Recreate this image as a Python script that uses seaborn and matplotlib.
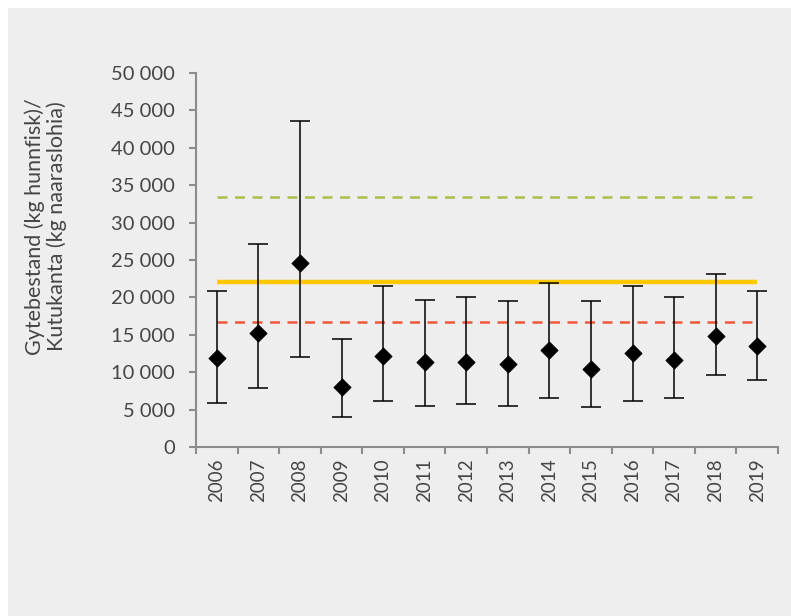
import numpy as np
import pandas as pd
import matplotlib
matplotlib.use("Agg")
import matplotlib.pyplot as plt
import matplotlib.patches as mpatches
from matplotlib.ticker import FuncFormatter
import seaborn as sns

# Data
years = ["2006", "2007", "2008", "2009", "2010", "2011", "2012",
         "2013", "2014", "2015", "2016", "2017", "2018", "2019"]
estimate = [11900, 15300, 24600, 8000, 12100, 11300, 11400,
            11100, 12900, 10400, 12500, 11600, 14900, 13500]
upper = [20900, 27200, 43600, 14400, 21500, 19700, 20100,
         19500, 21900, 19500, 21500, 20100, 23100, 20900]
lower = [5900, 7900, 12000, 4050, 6100, 5500, 5750,
         5500, 6500, 5300, 6100, 6500, 9600, 8950]
level_green = 33400
level_yellow = 22100
level_red = 16700

df = pd.DataFrame({"year": years, "estimate": estimate, "upper": upper, "lower": lower})
df["pos"] = np.arange(len(df))

sns.set_style("ticks")
plt.rcParams["font.family"] = ["Lato", "DejaVu Sans"]

bg = "#eeeeee"
txt = "#454545"
fig = plt.figure(figsize=(7.91, 6.16), dpi=100, facecolor="white")
fig.patches.append(mpatches.Rectangle((8 / 791, 0), 1, 1 - 8 / 616, transform=fig.transFigure,
                                      facecolor=bg, edgecolor="none", zorder=-10))
ax = fig.add_axes([0.2478, 0.2744, 0.7358, 0.6071])
ax.set_facecolor(bg)

# reference lines
ax.hlines(level_green, 0, len(years) - 1, color="#a8bf4a", linestyle=(0, (4, 3)), linewidth=1.8, zorder=1)
ax.hlines(level_yellow, 0, len(years) - 1, color="#ffc800", linewidth=3.2, zorder=1)
ax.hlines(level_red, 0, len(years) - 1, color="#f0583a", linestyle=(0, (4, 3)), linewidth=1.8, zorder=1)

# error bars
yerr = [df["estimate"] - df["lower"], df["upper"] - df["estimate"]]
ax.errorbar(df["pos"], df["estimate"], yerr=yerr, fmt="none", ecolor="black",
            elinewidth=1.1, capsize=7, capthick=1.1, zorder=2)
sns.scatterplot(data=df, x="pos", y="estimate", marker="D", s=75, color="black",
                edgecolor="black", ax=ax, zorder=3, legend=False)

ax.set_xlim(-0.5, len(years) - 0.5)
ax.set_ylim(0, 50000)
ax.set_yticks(np.arange(0, 50001, 5000))
ax.yaxis.set_major_formatter(FuncFormatter(lambda v, p: f"{int(v):,}".replace(",", " ")))
ax.set_xticks(df["pos"])
ax.set_xticklabels(years, rotation=90)
ax.set_xticks(np.arange(-0.5, len(years), 1), minor=True)
ax.tick_params(axis="x", which="major", length=0, pad=8)
ax.tick_params(axis="x", which="minor", length=5, color="#8c8c8c", width=1.5)
ax.tick_params(axis="y", length=5, color="#8c8c8c", width=1.5, pad=10)
ax.tick_params(labelsize=14.5, labelcolor=txt)
ax.tick_params(axis="x", labelsize=13.5)
ax.set_xlabel("")
ax.set_ylabel("Gytebestand (kg hunnfisk)/\nKutukanta (kg naaraslohia)", fontsize=15.5, color=txt,
              linespacing=1.05)
ax.yaxis.set_label_coords(-0.222, 0.59)

sns.despine(ax=ax)
for s in ["left", "bottom"]:
    ax.spines[s].set_color("#8c8c8c")
    ax.spines[s].set_linewidth(1.5)

fig.savefig("out.png", dpi=100, facecolor=fig.get_facecolor())
